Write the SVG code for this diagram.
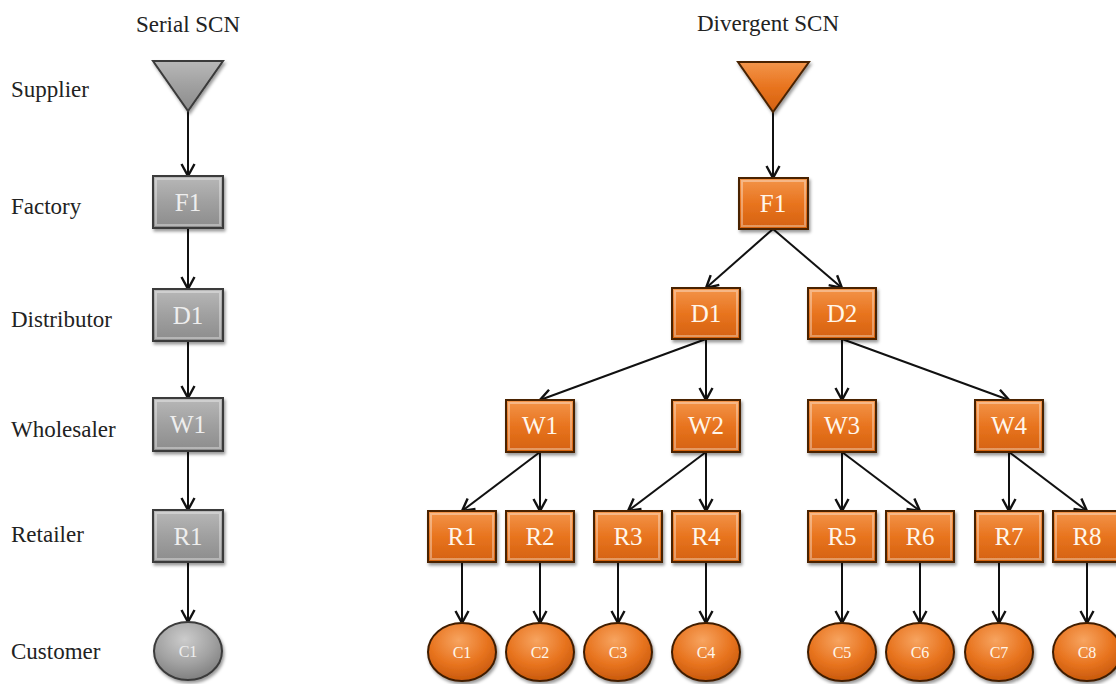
<svg xmlns="http://www.w3.org/2000/svg" width="1116" height="684" viewBox="0 0 1116 684">
<style>
.lbl{font-family:"Liberation Serif","Times New Roman",serif;font-size:23px;fill:#222}
.bt{font-family:"Liberation Serif","Times New Roman",serif;font-size:25px;text-anchor:middle;fill:#fff6ea}
.ct{font-family:"Liberation Serif","Times New Roman",serif;font-size:16px;text-anchor:middle;fill:#fff6ea}
.gt{fill:#eeeeee}
.ob{fill:url(#og);stroke:#4a2406;stroke-width:2;filter:url(#sh)}
.oc{fill:url(#orad);stroke:#3f1e05;stroke-width:2;filter:url(#sh)}
.gb{fill:url(#gg);stroke:#3a3a3a;stroke-width:2;filter:url(#sh)}
.gc{fill:url(#grad);stroke:#3a3a3a;stroke-width:2;filter:url(#sh)}
.bev{fill:none;stroke:#ffffff;stroke-opacity:0.35;stroke-width:2}
.cn line{stroke:#111;stroke-width:2;marker-end:url(#ah)}
</style>
<defs>
<linearGradient id="og" x1="0" y1="0" x2="0" y2="1">
<stop offset="0" stop-color="#f3954a"/><stop offset="0.5" stop-color="#e8741f"/><stop offset="1" stop-color="#d4610f"/>
</linearGradient>
<linearGradient id="gg" x1="0" y1="0" x2="0" y2="1">
<stop offset="0" stop-color="#b8b8b8"/><stop offset="0.5" stop-color="#a0a0a0"/><stop offset="1" stop-color="#8c8c8c"/>
</linearGradient>
<radialGradient id="orad" cx="0.45" cy="0.3" r="0.7">
<stop offset="0" stop-color="#f7a460"/><stop offset="0.6" stop-color="#e8741f"/><stop offset="1" stop-color="#c8590c"/>
</radialGradient>
<radialGradient id="grad" cx="0.45" cy="0.3" r="0.7">
<stop offset="0" stop-color="#cccccc"/><stop offset="0.6" stop-color="#a2a2a2"/><stop offset="1" stop-color="#808080"/>
</radialGradient>
<filter id="sh" x="-20%" y="-20%" width="140%" height="150%">
<feDropShadow dx="1.5" dy="2.5" stdDeviation="1.5" flood-color="#000" flood-opacity="0.4"/>
</filter>
<marker id="ah" markerUnits="userSpaceOnUse" markerWidth="16" markerHeight="16" viewBox="0 0 16 16" refX="14" refY="8" orient="auto">
<path d="M2,1.5 L14,8 L2,14.5" fill="none" stroke="#111" stroke-width="2.4"/>
</marker>
</defs>
<rect width="1116" height="684" fill="#ffffff"/>

<g id="titles">
<text class="lbl" x="188" y="32" text-anchor="middle">Serial SCN</text>
<text class="lbl" x="768" y="31" text-anchor="middle">Divergent SCN</text>
</g>
<g id="levels">
<text class="lbl" x="11" y="97">Supplier</text>
<text class="lbl" x="11" y="214">Factory</text>
<text class="lbl" x="11" y="327">Distributor</text>
<text class="lbl" x="11" y="437">Wholesaler</text>
<text class="lbl" x="11" y="542">Retailer</text>
<text class="lbl" x="11" y="659">Customer</text>
</g>

<g id="connectors" class="cn">
<line x1="188" y1="111" x2="188" y2="176"/>
<line x1="188" y1="228" x2="188" y2="289"/>
<line x1="188" y1="341" x2="188" y2="398"/>
<line x1="188" y1="451" x2="188" y2="510"/>
<line x1="188" y1="562" x2="188" y2="622"/>

<line x1="773" y1="112" x2="773" y2="178"/>
<line x1="773" y1="229" x2="706" y2="288"/>
<line x1="773" y1="229" x2="842" y2="288"/>
<line x1="706" y1="339" x2="540" y2="400"/>
<line x1="706" y1="339" x2="706" y2="400"/>
<line x1="842" y1="339" x2="842" y2="400"/>
<line x1="842" y1="339" x2="1009" y2="400"/>
<line x1="540" y1="452" x2="462" y2="511"/>
<line x1="540" y1="452" x2="540" y2="511"/>
<line x1="706" y1="452" x2="628" y2="511"/>
<line x1="706" y1="452" x2="706" y2="511"/>
<line x1="842" y1="452" x2="842" y2="511"/>
<line x1="842" y1="452" x2="920" y2="511"/>
<line x1="1009" y1="452" x2="1009" y2="511"/>
<line x1="1009" y1="452" x2="1087" y2="511"/>
<line x1="462" y1="562" x2="462" y2="623"/>
<line x1="540" y1="562" x2="540" y2="623"/>
<line x1="618" y1="562" x2="618" y2="623"/>
<line x1="706" y1="562" x2="706" y2="623"/>
<line x1="842" y1="562" x2="842" y2="623"/>
<line x1="920" y1="562" x2="920" y2="623"/>
<line x1="999" y1="562" x2="999" y2="623"/>
<line x1="1087" y1="562" x2="1087" y2="623"/>
</g>

<!-- Serial -->
<g id="s-supplier"><polygon class="gb" points="153,61 223,61 188,111"/></g>
<g id="s-F1"><rect class="gb" x="153" y="176" width="70" height="52"/><rect class="bev" x="156" y="179" width="64" height="46"/><text class="bt gt" x="188" y="211">F1</text></g>
<g id="s-D1"><rect class="gb" x="153" y="289" width="70" height="52"/><rect class="bev" x="156" y="292" width="64" height="46"/><text class="bt gt" x="188" y="324">D1</text></g>
<g id="s-W1"><rect class="gb" x="153" y="398" width="70" height="53"/><rect class="bev" x="156" y="401" width="64" height="47"/><text class="bt gt" x="188" y="433">W1</text></g>
<g id="s-R1"><rect class="gb" x="153" y="510" width="70" height="52"/><rect class="bev" x="156" y="513" width="64" height="46"/><text class="bt gt" x="188" y="545">R1</text></g>
<g id="s-C1"><ellipse class="gc" cx="188" cy="651" rx="34" ry="29"/><text class="ct gt" x="188" y="657">C1</text></g>

<!-- Divergent -->
<g id="d-supplier"><polygon class="ob" points="738,62 809,62 773,112"/></g>
<g id="d-F1"><rect class="ob" x="739" y="178" width="69" height="51"/><rect class="bev" x="742" y="181" width="63" height="45"/><text class="bt" x="773" y="212">F1</text></g>
<g id="d-D1"><rect class="ob" x="672" y="288" width="68" height="51"/><rect class="bev" x="675" y="291" width="62" height="45"/><text class="bt" x="706" y="322">D1</text></g>
<g id="d-D2"><rect class="ob" x="808" y="288" width="68" height="51"/><rect class="bev" x="811" y="291" width="62" height="45"/><text class="bt" x="842" y="322">D2</text></g>

<g id="d-W1"><rect class="ob" x="506" y="400" width="68" height="52"/><rect class="bev" x="509" y="403" width="62" height="46"/><text class="bt" x="540" y="434">W1</text></g>
<g id="d-W2"><rect class="ob" x="672" y="400" width="68" height="52"/><rect class="bev" x="675" y="403" width="62" height="46"/><text class="bt" x="706" y="434">W2</text></g>
<g id="d-W3"><rect class="ob" x="808" y="400" width="68" height="52"/><rect class="bev" x="811" y="403" width="62" height="46"/><text class="bt" x="842" y="434">W3</text></g>
<g id="d-W4"><rect class="ob" x="975" y="400" width="68" height="52"/><rect class="bev" x="978" y="403" width="62" height="46"/><text class="bt" x="1009" y="434">W4</text></g>

<g id="d-R1"><rect class="ob" x="428" y="511" width="68" height="51"/><rect class="bev" x="431" y="514" width="62" height="45"/><text class="bt" x="462" y="545">R1</text></g>
<g id="d-R2"><rect class="ob" x="506" y="511" width="68" height="51"/><rect class="bev" x="509" y="514" width="62" height="45"/><text class="bt" x="540" y="545">R2</text></g>
<g id="d-R3"><rect class="ob" x="594" y="511" width="68" height="51"/><rect class="bev" x="597" y="514" width="62" height="45"/><text class="bt" x="628" y="545">R3</text></g>
<g id="d-R4"><rect class="ob" x="672" y="511" width="68" height="51"/><rect class="bev" x="675" y="514" width="62" height="45"/><text class="bt" x="706" y="545">R4</text></g>
<g id="d-R5"><rect class="ob" x="808" y="511" width="68" height="51"/><rect class="bev" x="811" y="514" width="62" height="45"/><text class="bt" x="842" y="545">R5</text></g>
<g id="d-R6"><rect class="ob" x="886" y="511" width="68" height="51"/><rect class="bev" x="889" y="514" width="62" height="45"/><text class="bt" x="920" y="545">R6</text></g>
<g id="d-R7"><rect class="ob" x="975" y="511" width="68" height="51"/><rect class="bev" x="978" y="514" width="62" height="45"/><text class="bt" x="1009" y="545">R7</text></g>
<g id="d-R8"><rect class="ob" x="1053" y="511" width="68" height="51"/><rect class="bev" x="1056" y="514" width="62" height="45"/><text class="bt" x="1087" y="545">R8</text></g>

<g id="d-C1"><ellipse class="oc" cx="462" cy="652" rx="34" ry="29"/><text class="ct" x="462" y="658">C1</text></g>
<g id="d-C2"><ellipse class="oc" cx="540" cy="652" rx="34" ry="29"/><text class="ct" x="540" y="658">C2</text></g>
<g id="d-C3"><ellipse class="oc" cx="618" cy="652" rx="34" ry="29"/><text class="ct" x="618" y="658">C3</text></g>
<g id="d-C4"><ellipse class="oc" cx="706" cy="652" rx="34" ry="29"/><text class="ct" x="706" y="658">C4</text></g>
<g id="d-C5"><ellipse class="oc" cx="842" cy="652" rx="34" ry="29"/><text class="ct" x="842" y="658">C5</text></g>
<g id="d-C6"><ellipse class="oc" cx="920" cy="652" rx="34" ry="29"/><text class="ct" x="920" y="658">C6</text></g>
<g id="d-C7"><ellipse class="oc" cx="999" cy="652" rx="34" ry="29"/><text class="ct" x="999" y="658">C7</text></g>
<g id="d-C8"><ellipse class="oc" cx="1087" cy="652" rx="34" ry="29"/><text class="ct" x="1087" y="658">C8</text></g>
</svg>
